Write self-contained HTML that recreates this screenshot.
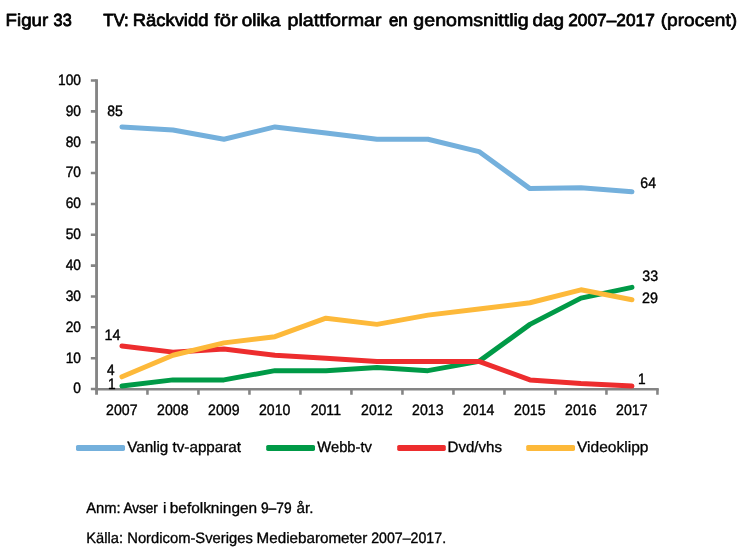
<!DOCTYPE html>
<html><head><meta charset="utf-8"><title>Figur 33</title>
<style>
html,body{margin:0;padding:0;background:#fff;}
body{width:745px;height:555px;overflow:hidden;font-family:"Liberation Sans",sans-serif;}
svg{display:block;will-change:transform;}
</style></head><body>
<svg width="745" height="555" viewBox="0 0 745 555">
<g stroke="#848484" fill="none">
<path stroke-width="2.85" d="M96.55 79.3V394.7"/>
<path stroke-width="2.5" d="M95.15 389.15H658.75"/>
<path stroke-width="2.55" d="M90.85 389.00H96.45M90.85 358.15H96.45M90.85 327.30H96.45M90.85 296.45H96.45M90.85 265.60H96.45M90.85 234.75H96.45M90.85 203.90H96.45M90.85 173.05H96.45M90.85 142.20H96.45M90.85 111.35H96.45M90.85 80.50H96.45M147.45 389.0V394.7M198.45 389.0V394.7M249.45 389.0V394.7M300.45 389.0V394.7M351.45 389.0V394.7M402.45 389.0V394.7M453.45 389.0V394.7M504.45 389.0V394.7M555.45 389.0V394.7M606.45 389.0V394.7M657.45 389.0V394.7"/>
</g>
<g fill="none" stroke-width="5" stroke-linecap="round" stroke-linejoin="round">
<polyline points="121.95,126.92 172.95,130.01 223.95,139.26 274.95,126.92 325.95,133.09 376.95,139.26 427.95,139.26 478.95,151.60 529.95,188.62 580.95,187.70 631.95,191.71" stroke="#74B0DC"/>
<polyline points="121.95,386.06 172.95,379.89 223.95,379.89 274.95,370.64 325.95,370.64 376.95,367.55 427.95,370.64 478.95,361.38 529.95,324.37 580.95,298.14 631.95,287.34" stroke="#009A47"/>
<polyline points="121.95,345.96 172.95,352.13 223.95,349.04 274.95,355.21 325.95,358.30 376.95,361.38 427.95,361.38 478.95,361.38 529.95,379.89 580.95,383.60 631.95,386.06" stroke="#ED2D2E"/>
<polyline points="121.95,376.81 172.95,355.21 223.95,342.88 274.95,336.70 325.95,318.19 376.95,324.37 427.95,315.11 478.95,308.94 529.95,302.77 580.95,289.81 631.95,299.68" stroke="#FDB93A"/>
</g>
<rect x="76.0" y="444.90" width="49.0" height="6.0" rx="1.6" fill="#74B0DC"/>
<rect x="266.2" y="444.90" width="48.8" height="6.0" rx="1.6" fill="#009A47"/>
<rect x="397.2" y="444.90" width="48.6" height="6.0" rx="1.6" fill="#ED2D2E"/>
<rect x="526.2" y="444.90" width="48.8" height="6.0" rx="1.6" fill="#FDB93A"/>
<g font-family="Liberation Sans, sans-serif" fill="#000" stroke="#000" stroke-linejoin="round" text-rendering="geometricPrecision">
<g font-size="15.1" stroke-width="0.33">
<text stroke-width="0.42" transform="translate(73.31 393.40) scale(0.9100 1)">0</text>
<text stroke-width="0.42" transform="translate(65.67 362.55) scale(0.9100 1)">10</text>
<text stroke-width="0.42" transform="translate(65.67 331.70) scale(0.9100 1)">20</text>
<text stroke-width="0.42" transform="translate(65.67 300.85) scale(0.9100 1)">30</text>
<text stroke-width="0.42" transform="translate(65.67 270.00) scale(0.9100 1)">40</text>
<text stroke-width="0.42" transform="translate(65.67 239.15) scale(0.9100 1)">50</text>
<text stroke-width="0.42" transform="translate(65.67 208.30) scale(0.9100 1)">60</text>
<text stroke-width="0.42" transform="translate(65.67 177.45) scale(0.9100 1)">70</text>
<text stroke-width="0.42" transform="translate(65.67 146.60) scale(0.9100 1)">80</text>
<text stroke-width="0.42" transform="translate(65.67 115.75) scale(0.9100 1)">90</text>
<text stroke-width="0.42" transform="translate(58.02 84.90) scale(0.9100 1)">100</text>
<text stroke-width="0.39" transform="translate(106.10 414.60) scale(0.9350 1)">2007</text>
<text stroke-width="0.39" transform="translate(157.10 414.60) scale(0.9350 1)">2008</text>
<text stroke-width="0.39" transform="translate(208.10 414.60) scale(0.9350 1)">2009</text>
<text stroke-width="0.39" transform="translate(258.99 414.60) scale(0.9350 1)">2010</text>
<text stroke-width="0.39" transform="translate(310.63 414.60) scale(0.9350 1)">2011</text>
<text stroke-width="0.39" transform="translate(361.10 414.60) scale(0.9350 1)">2012</text>
<text stroke-width="0.39" transform="translate(412.10 414.60) scale(0.9350 1)">2013</text>
<text stroke-width="0.39" transform="translate(462.99 414.60) scale(0.9350 1)">2014</text>
<text stroke-width="0.39" transform="translate(514.10 414.60) scale(0.9350 1)">2015</text>
<text stroke-width="0.39" transform="translate(565.10 414.60) scale(0.9350 1)">2016</text>
<text stroke-width="0.39" transform="translate(616.10 414.60) scale(0.9350 1)">2017</text>
<text stroke-width="0.41" transform="translate(107.15 116.20) scale(0.9245 1)">85</text>
<text stroke-width="0.40" transform="translate(640.33 188.00) scale(0.9311 1)">64</text>
<text stroke-width="0.39" transform="translate(642.34 281.30) scale(0.9376 1)">33</text>
<text stroke-width="0.38" transform="translate(642.11 302.50) scale(0.9525 1)">29</text>
<text stroke-width="0.42" transform="translate(637.93 383.70) scale(0.9100 1)">1</text>
<text stroke-width="0.38" transform="translate(104.58 339.50) scale(0.9525 1)">14</text>
<text stroke-width="0.43" transform="translate(106.88 375.10) scale(0.9009 1)">4</text>
<text stroke-width="0.42" transform="translate(107.93 389.20) scale(0.9100 1)">1</text>
<text transform="translate(127.16 451.60) scale(1.0078 1)">Vanlig tv-apparat</text>
<text transform="translate(317.37 451.60) scale(0.9751 1)">Webb-tv</text>
<text transform="translate(447.49 451.60) scale(0.9995 1)">Dvd/vhs</text>
<text stroke-width="0.30" transform="translate(576.95 451.60) scale(1.0305 1)">Videoklipp</text>
<text transform="translate(86.27 512.60) scale(0.9757 1)">Anm:</text>
<text stroke-width="0.43" transform="translate(123.49 512.60) scale(0.8970 1)">Avser</text>
<text transform="translate(163.12 512.60) scale(1.0000 1)">i</text>
<text transform="translate(169.80 512.60) scale(1.0195 1)">befolkningen</text>
<text stroke-width="0.42" transform="translate(260.95 512.60) scale(0.9116 1)">9–79</text>
<text transform="translate(296.49 512.60) scale(1.0082 1)">år.</text>
<text transform="translate(86.33 542.50) scale(0.9723 1)">Källa:</text>
<text transform="translate(127.22 542.50) scale(0.9789 1)">Nordicom-Sveriges</text>
<text transform="translate(256.57 542.50) scale(1.0072 1)">Mediebarometer</text>
<text stroke-width="0.39" transform="translate(371.22 542.50) scale(0.9386 1)">2007–2017.</text>
</g>
<g font-size="17.5" stroke-width="0.8">
<text stroke-width="0.71" transform="translate(5.62 26.40) scale(1.0683 1)">Figur</text>
<text stroke-width="0.90" transform="translate(53.61 26.40) scale(0.9265 1)">33</text>
<text stroke-width="0.84" transform="translate(103.14 26.40) scale(0.9662 1)">TV:</text>
<text stroke-width="0.73" transform="translate(132.64 26.40) scale(1.0532 1)">Räckvidd</text>
<text stroke-width="0.60" transform="translate(214.25 26.40) scale(1.1508 1)">för</text>
<text stroke-width="0.70" transform="translate(241.79 26.40) scale(1.0756 1)">olika</text>
<text stroke-width="0.64" transform="translate(287.43 26.40) scale(1.1252 1)">plattformar</text>
<text stroke-width="0.85" transform="translate(388.99 26.40) scale(0.9579 1)">en</text>
<text stroke-width="0.65" transform="translate(413.35 26.40) scale(1.1191 1)">genomsnittlig</text>
<text stroke-width="0.70" transform="translate(532.59 26.40) scale(1.0787 1)">dag</text>
<text transform="translate(568.19 26.40) scale(0.9887 1)">2007–2017</text>
<text stroke-width="0.68" transform="translate(660.68 26.40) scale(1.0916 1)">(procent)</text>
</g>
</g></svg>
</body></html>
